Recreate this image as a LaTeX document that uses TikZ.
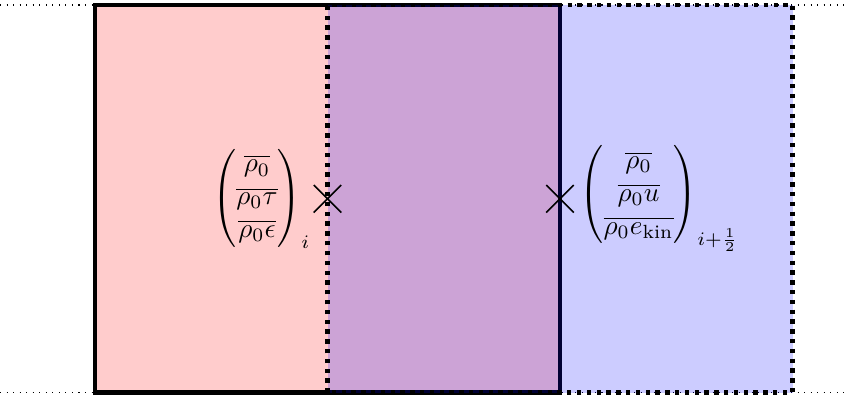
\documentclass[tikz,border=0pt]{standalone}
\usepackage{amsmath}
\usetikzlibrary{positioning,shapes.misc}
\begin{document}
\begin{tikzpicture}[
    cellred/.style={draw, ultra thick, fill=red, fill opacity=0.2},
    cellblue/.style={draw, ultra thick, dotted, fill=blue, fill opacity=0.2},
    guide/.style={dotted},
    cross/.style={cross out, draw, semithick, minimum size=9.5pt, inner sep=0pt},
    state/.style={inner sep=1pt}
]
\useasboundingbox (-1.226,-0.077) rectangle (9.677,5.065);
% horizontal guides
\coordinate (bl) at (-1.226,0);
\coordinate (br) at (9.677,0);
\coordinate (tl) at (-1.226,5);
\coordinate (tr) at (9.677,5);
\draw[guide] (bl) -- (br);
\draw[guide] (tl) -- (tr);
% cells
\draw[cellred] (0,0) rectangle (6,5);
\draw[cellblue] (3,0) rectangle (9,5);
% points
\node[cross] (xi) at (3,2.5) {};
\node[cross] (xh) at (6,2.5) {};
\node[state, left=0pt of xi] (qi)
    {$\begin{pmatrix}\overline{\rho_0}\\ \overline{\rho_0\tau}\\ \overline{\rho_0\epsilon}\end{pmatrix}_i$};
\node[state, right=1pt of xh] (qh)
    {$\begin{pmatrix}\overline{\rho_0}\\ \overline{\rho_0 u}\\ \overline{\rho_0 e_{\text{kin}}}\end{pmatrix}_{i+\frac{1}{2}}$};
\end{tikzpicture}
\end{document}
